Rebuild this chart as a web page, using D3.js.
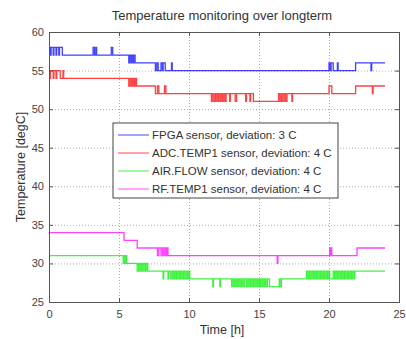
<!DOCTYPE html>
<meta charset="utf-8">
<script src="https://d3js.org/d3.v7.min.js"></script>
<style>
  body { margin: 0; background: #fff; }
  svg { font-family: "Liberation Sans", Arial, sans-serif; }
  .grid line { stroke: #aaa; stroke-dasharray: 1,2; }
  .grid path { stroke: none; }
  .ax path, .ax line { stroke: #555; }
  .ax text { fill: #444; font-size: 11px; }
</style>
<div id="chart"></div>
<script>

// tick labels
const xTicks = [0, 5, 10, 15, 20, 25];
const yTicks = [25, 30, 35, 40, 45, 50, 55, 60];

// series names / colours
const names = ["FPGA sensor, deviation: 3 C", "ADC.TEMP1 sensor, deviation: 4 C",
               "AIR.FLOW sensor, deviation: 4 C", "RF.TEMP1 sensor, deviation: 4 C"];
const colors = ["#0000ff", "#ff0000", "#00ee00", "#ff00ff"];

// step data: [time h, temperature degC]
const fpga = [[0,58],[0.1,57],[0.15,58],[0.3,57],[0.35,58],[0.5,57],[0.55,58],[0.7,57],[0.75,58],[0.95,57],
  [3.15,58],[3.25,57],[3.35,58],[3.4,57],[4.45,58],[4.55,57],
  [5.7,56],[5.75,57],[5.85,56],[5.9,57],[6.0,56],[6.05,57],[6.15,56],
  [7.6,55],[7.7,56],[7.8,55],[8.0,56],[8.1,55],[8.15,56],[8.3,55],[8.75,56],[8.8,55],
  [20.0,56],[20.1,55],[20.15,56],[20.3,55],[20.6,56],[20.65,55],[21.9,56],[23.0,55],[23.05,56],[24,56]];

const adc = [[0,55],[0.05,54],[0.1,55],[0.3,54],[0.35,55],[0.5,54],[0.55,55],[0.8,54],[1.0,55],[1.05,54],
  [5.7,53],[5.75,54],[5.8,53],[5.9,54],[5.95,53],[6.05,54],[6.1,53],[6.2,54],[6.25,53],
  [7.6,52],[7.75,53],[7.85,52],[8.25,53],[8.35,52],
  [11.6,51],[11.7,52],[11.8,51],[11.9,52],[12.0,51],[12.1,52],[12.2,51],[12.3,52],[12.4,51],[12.5,52],[12.6,51],[12.65,52],
  [12.9,51],[12.95,52],[13.3,51],[13.4,52],[14.05,51],[14.1,52],[14.35,51],[14.4,52],[14.6,51],
  [16.4,52],[16.5,51],[16.6,52],[16.7,51],[16.8,52],[16.9,51],[17.0,52],[17.35,51],[17.4,52],
  [20.0,53],[20.2,52],[21.9,53],[23.1,52],[23.15,53],[24,53]];

const airflow = [[0,31],[5.3,30],[5.35,31],[5.45,30],[5.5,31],[5.55,30],
  [6.3,29],[6.4,30],[6.5,29],[6.6,30],[6.7,29],[6.8,30],[6.9,29],[7.0,30],[7.05,29],
  [8.15,28],[8.2,29],[8.5,28],[8.55,29],[8.7,28],[8.8,29],[8.9,28],[9.0,29],[9.1,28],[9.2,29],[9.3,28],
  [9.4,29],[9.5,28],[9.6,29],[9.7,28],[9.8,29],[9.9,28],[10.0,29],[10.05,28],
  [11.7,27],[11.75,28],[12.2,27],[12.25,28],
  [13.05,27],[13.15,28],[13.25,27],[13.35,28],[13.45,27],[13.55,28],[13.65,27],[13.75,28],[13.85,27],[13.95,28],[14.1,27],[14.2,28],
  [14.3,27],[14.4,28],[14.5,27],[14.6,28],[14.7,27],[14.8,28],[14.9,27],[15.0,28],[15.1,27],[15.2,28],[15.3,27],[15.4,28],[15.5,27],[15.6,28],
  [15.75,27],[16.45,28],[16.5,27],[16.6,28],
  [18.4,29],[18.5,28],[18.6,29],[18.7,28],[18.8,29],[18.9,28],[19.0,29],[19.1,28],[19.2,29],[19.3,28],[19.4,29],[19.5,28],
  [19.6,29],[19.7,28],[19.8,29],[19.9,28],[20.0,29],[20.05,28],
  [20.3,29],[20.4,28],[20.5,29],[20.6,28],[20.7,29],[20.8,28],[20.9,29],[21.0,28],[21.1,29],[21.2,28],[21.3,29],[21.4,28],
  [21.5,29],[21.6,28],[21.7,29],[21.8,28],[21.85,29],[24,29]];

const rftemp = [[0,34],[5.36,33],[6.3,32],[7.75,31],[7.85,32],[8.0,31],[8.1,32],[8.2,31],[8.3,32],[8.4,31],[8.45,32],[8.5,31],
  [16.3,30],[16.35,31],[20.05,32],[20.1,31],[20.15,32],[20.2,31],[22.0,32],[24,32]];

const series = [fpga, adc, airflow, rftemp];

const W = 406, H = 339;
const m = {left: 49, right: 7, top: 32, bottom: 37};
const w = W - m.left - m.right, h = H - m.top - m.bottom;

const svg = d3.select("#chart").append("svg").attr("width", W).attr("height", H);
const g = svg.append("g").attr("transform", `translate(${m.left},${m.top})`);

const x = d3.scaleLinear().domain([0, 25]).range([0, w]);
const y = d3.scaleLinear().domain([25, 60]).range([h, 0]);

// grid
g.append("g").attr("class", "grid").attr("transform", `translate(0,${h})`)
  .call(d3.axisBottom(x).tickValues(xTicks).tickSize(-h).tickFormat(""));
g.append("g").attr("class", "grid")
  .call(d3.axisLeft(y).tickValues(yTicks).tickSize(-w).tickFormat(""));

// lines
const line = d3.line().x(d => x(d[0])).y(d => y(d[1])).curve(d3.curveStepAfter);
series.forEach((s, i) => {
  g.append("path").datum(s)
    .attr("fill", "none")
    .attr("stroke", colors[i])
    .attr("stroke-opacity", 0.75)
    .attr("stroke-width", 1.3)
    .attr("d", line);
});

// axes (inward ticks, matlab style)
g.append("g").attr("class", "ax").attr("transform", `translate(0,${h})`)
  .call(d3.axisBottom(x).tickValues(xTicks).tickSize(-4).tickPadding(8));
g.append("g").attr("class", "ax")
  .call(d3.axisLeft(y).tickValues(yTicks).tickSize(-4).tickPadding(5));
g.append("g").attr("class", "ax")
  .call(d3.axisTop(x).tickValues(xTicks).tickSize(-4).tickFormat(""));
g.append("g").attr("class", "ax").attr("transform", `translate(${w},0)`)
  .call(d3.axisRight(y).tickValues(yTicks).tickSize(-4).tickFormat(""));

// legend
const lg = svg.append("g").attr("transform", "translate(113,123)");
lg.append("rect").attr("width", 225).attr("height", 75)
  .attr("fill", "#fff").attr("stroke", "#444");
names.forEach((n, i) => {
  const yy = 12 + i * 18;
  lg.append("line").attr("x1", 5).attr("x2", 36).attr("y1", yy).attr("y2", yy)
    .attr("stroke", colors[i]).attr("stroke-opacity", 0.45).attr("stroke-width", 1.6);
  lg.append("text").attr("x", 39).attr("y", yy).attr("dy", "0.35em")
    .style("font-size", "11.5px").attr("fill", "#333").text(n);
});

// titles
svg.append("text").attr("x", 222).attr("y", 20).attr("text-anchor", "middle")
  .style("font-size", "13px").attr("fill", "#333").text("Temperature monitoring over longterm");
svg.append("text").attr("x", 222).attr("y", 334).attr("text-anchor", "middle")
  .style("font-size", "12.5px").attr("fill", "#333").text("Time [h]");
svg.append("text").attr("transform", `translate(25,${m.top + h / 2}) rotate(-90)`)
  .attr("text-anchor", "middle")
  .style("font-size", "12.5px").attr("fill", "#333").text("Temperature [degC]");

</script>
